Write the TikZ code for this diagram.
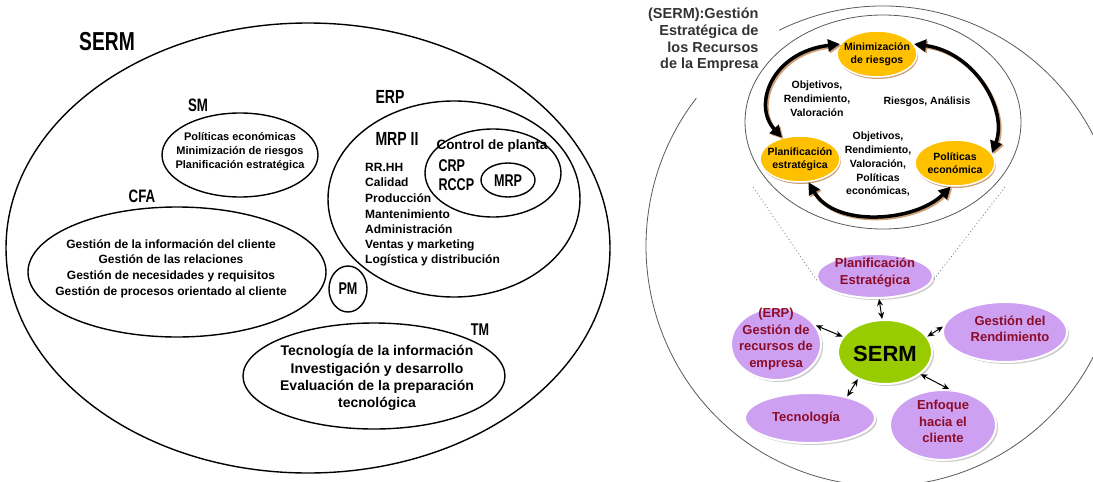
\documentclass[tikz,border=0pt]{standalone}
\usepackage{fontspec}
\setmainfont{Liberation Sans}
\newfontfamily\narrowfont[FakeStretch=0.74]{Liberation Sans}
\usetikzlibrary{arrows.meta,shapes.geometric,shadows}

\definecolor{gold}{RGB}{255,192,0}
\definecolor{lilac}{RGB}{205,160,242}
\definecolor{sermgreen}{RGB}{153,204,0}
\definecolor{wine}{RGB}{140,12,40}
\definecolor{tanshade}{RGB}{205,160,120}

\newcommand{\fsize}[2]{\fontsize{#1}{#2}\selectfont}
\newcommand{\drawoval}[4]{%
\draw[line width=1.4pt] (#1,#2) ellipse [x radius=#3, y radius=#4];
}
\newcommand{\namelabel}[5]{%
\node[font=\narrowfont\bfseries\fsize{#5}{#5}] (#3) at (#1,#2) {#4};
}

\tikzset{
  inset/.style={font=\bfseries\fsize{12}{15.6}, align=center, inner sep=0pt},
  celltext/.style={font=\bfseries\fsize{10.5}{13}, align=center, inner sep=0pt},
  cycletext/.style={font=\bfseries\fsize{10.5}{14}, align=center, inner sep=0pt},
  lilactext/.style={font=\bfseries\fsize{13}{16.5}, text=wine, align=center, inner sep=0pt},
  yellowoval/.style={ellipse, fill=gold, draw=white, line width=1.5pt, inner sep=0pt,
    minimum width=80, minimum height=46,
    drop shadow={shadow xshift=1pt, shadow yshift=-2pt, fill=tanshade, opacity=1}},
  lilacoval/.style={ellipse, fill=lilac, draw=white, line width=2pt, inner sep=0pt,
    drop shadow={shadow xshift=2pt, shadow yshift=-2pt, fill=gray!40, opacity=1}},
  cyclearrow/.style={line width=3.5pt, {Triangle[length=12pt,width=12pt]}-{Triangle[length=12pt,width=12pt]}},
  link/.style={line width=1pt, {Stealth[length=7pt,width=6pt]}-{Stealth[length=7pt,width=6pt]}},
  guide/.style={gray, line width=0.8pt, dash pattern=on 1pt off 2.5pt},
  ring/.style={black!65, line width=0.8pt}
}

\begin{document}
\begin{tikzpicture}[x=1pt, y=-1pt]
\useasboundingbox (0,0) rectangle (1093,482);

\drawoval{308}{248}{302}{225}
\drawoval{240}{155}{78}{42}
\drawoval{177}{272}{149}{65}
\drawoval{454}{199}{126}{98}
\drawoval{493}{173}{68}{44}
\drawoval{508}{180}{27}{17}
\drawoval{348}{289}{19}{23}
\drawoval{374}{376}{131}{53}

\namelabel{107}{42}{serm}{SERM}{26}
\namelabel{198}{105}{sm}{SM}{18}
\namelabel{142}{196}{cfa}{CFA}{18}
\namelabel{390}{97}{erp}{ERP}{19}
\namelabel{397}{139}{mrpii}{MRP II}{19}
\namelabel{508}{181}{mrp}{MRP}{17}
\namelabel{348}{289}{pm}{PM}{17}
\namelabel{480}{330}{tm}{TM}{17}
\node[font=\narrowfont\bfseries\fsize{17}{19}, anchor=west, align=left] (crp) at (435,175) {CRP\\RCCP};

\node[inset, font=\bfseries\fsize{11}{14}] (smtext) at (240,152) {Políticas económicas\\Minimización de riesgos\\Planificación estratégica};
\node[inset] (cfatext) at (171,268.5) {Gestión de la información del cliente\\Gestión de las relaciones\\Gestión de necesidades y requisitos\\Gestión de procesos orientado al cliente};
\node[inset, font=\bfseries\fsize{14}{17.3}] (tmtext) at (377,378) {Tecnología de la información\\Investigación y desarrollo\\Evaluación de la preparación\\tecnológica};
\node[inset, font=\bfseries\fsize{13.5}{13.5}] (control) at (492,146) {Control de planta};

\foreach \t [count=\i] in {RR.HH, Calidad, Producción, Mantenimiento, Administración, Ventas y marketing, Logística y distribución}
{
\node[inset, anchor=west] (erp\i) at (365,151.4+15.6*\i) {\t};
}


\draw[ring] (883,246) ++(244:237 and 240) arc [start angle=244, end angle=578, x radius=237, y radius=240];
\draw[ring] (883,122) ellipse [x radius=138, y radius=107];

\node[font=\bfseries\fsize{14.5}{16.7}, text=black!80, align=right, anchor=east] (title) at (762,40) {(SERM):Gestión\\Estratégica de\\los Recursos\\de la Empresa};

\node[yellowoval, label={[celltext]center:Minimización\\de riesgos}] (minim) at (877,54) {};
\node[yellowoval, label={[celltext]center:Planificación\\estratégica}] (plan) at (800,159) {};
\node[yellowoval, label={[celltext]center:Políticas\\económica}] (polit) at (955,163) {};

\node[cycletext] (obja) at (817,99) {Objetivos,\\Rendimiento,\\Valoración};
\node[cycletext] (riesg) at (927,102) {Riesgos, Análisis};
\node[cycletext, font=\bfseries\fsize{10.5}{13.75}] (objb) at (878,164.5) {Objetivos,\\Rendimiento,\\Valoración,\\Políticas\\económicas,};

\draw[cyclearrow, draw=tanshade, transform canvas={xshift=1.5pt, yshift=-1.5pt}] (plan.130) .. controls (752,105) and (772,52) .. (minim.165);
\draw[cyclearrow, draw=tanshade, transform canvas={xshift=1.5pt, yshift=-1.5pt}] (minim.15) .. controls (975,52) and (1008,110) .. (polit.15);
\draw[cyclearrow, draw=tanshade, transform canvas={xshift=1.5pt, yshift=-1.5pt}] (plan.-70) .. controls (835,228) and (915,222) .. (polit.-100);
\draw[cyclearrow] (plan.130) .. controls (752,105) and (772,52) .. (minim.165);
\draw[cyclearrow] (minim.15) .. controls (975,52) and (1008,110) .. (polit.15);
\draw[cyclearrow] (plan.-70) .. controls (835,228) and (915,222) .. (polit.-100);

\node[lilacoval, minimum width=116, minimum height=44, label={[lilactext, yshift=3.5pt]center:Planificación\\Estratégica}] (pe) at (875,276) {};
\node[lilacoval, minimum width=90, minimum height=72, label={[lilactext, yshift=5pt]center:(ERP)\\Gestión de\\recursos de\\empresa}] (gre) at (776,344) {};
\node[lilacoval, fill=sermgreen, minimum width=94, minimum height=64, label={[font=\bfseries\fsize{22}{22}, yshift=-2pt]center:SERM}] (core) at (885,352) {};
\node[lilacoval, minimum width=124, minimum height=60, label={[lilactext, xshift=5pt, yshift=3pt]center:Gestión del\\Rendimiento}] (gdr) at (1005,332) {};
\node[lilacoval, minimum width=130, minimum height=50, label={[lilactext, xshift=-4pt]center:Tecnología}] (tec) at (810,418) {};
\node[lilacoval, minimum width=106, minimum height=70, label={[lilactext, yshift=3.5pt]center:Enfoque\\hacia el\\cliente}] (enf) at (943,425) {};

\coordinate (ringl) at (753,187);
\coordinate (ringr) at (1005,187);
\draw[guide] (ringl) -- (pe.185);
\draw[guide] (ringr) -- (pe.-5);

\draw[link] (core.95) -- (pe.-80);
\draw[link] (core.160) -- (gre.25);
\draw[link] (core.20) -- (gdr.175);
\draw[link] (core.-135) -- (tec.30);
\draw[link] (core.-32) -- (enf.80);

\end{tikzpicture}
\end{document}
